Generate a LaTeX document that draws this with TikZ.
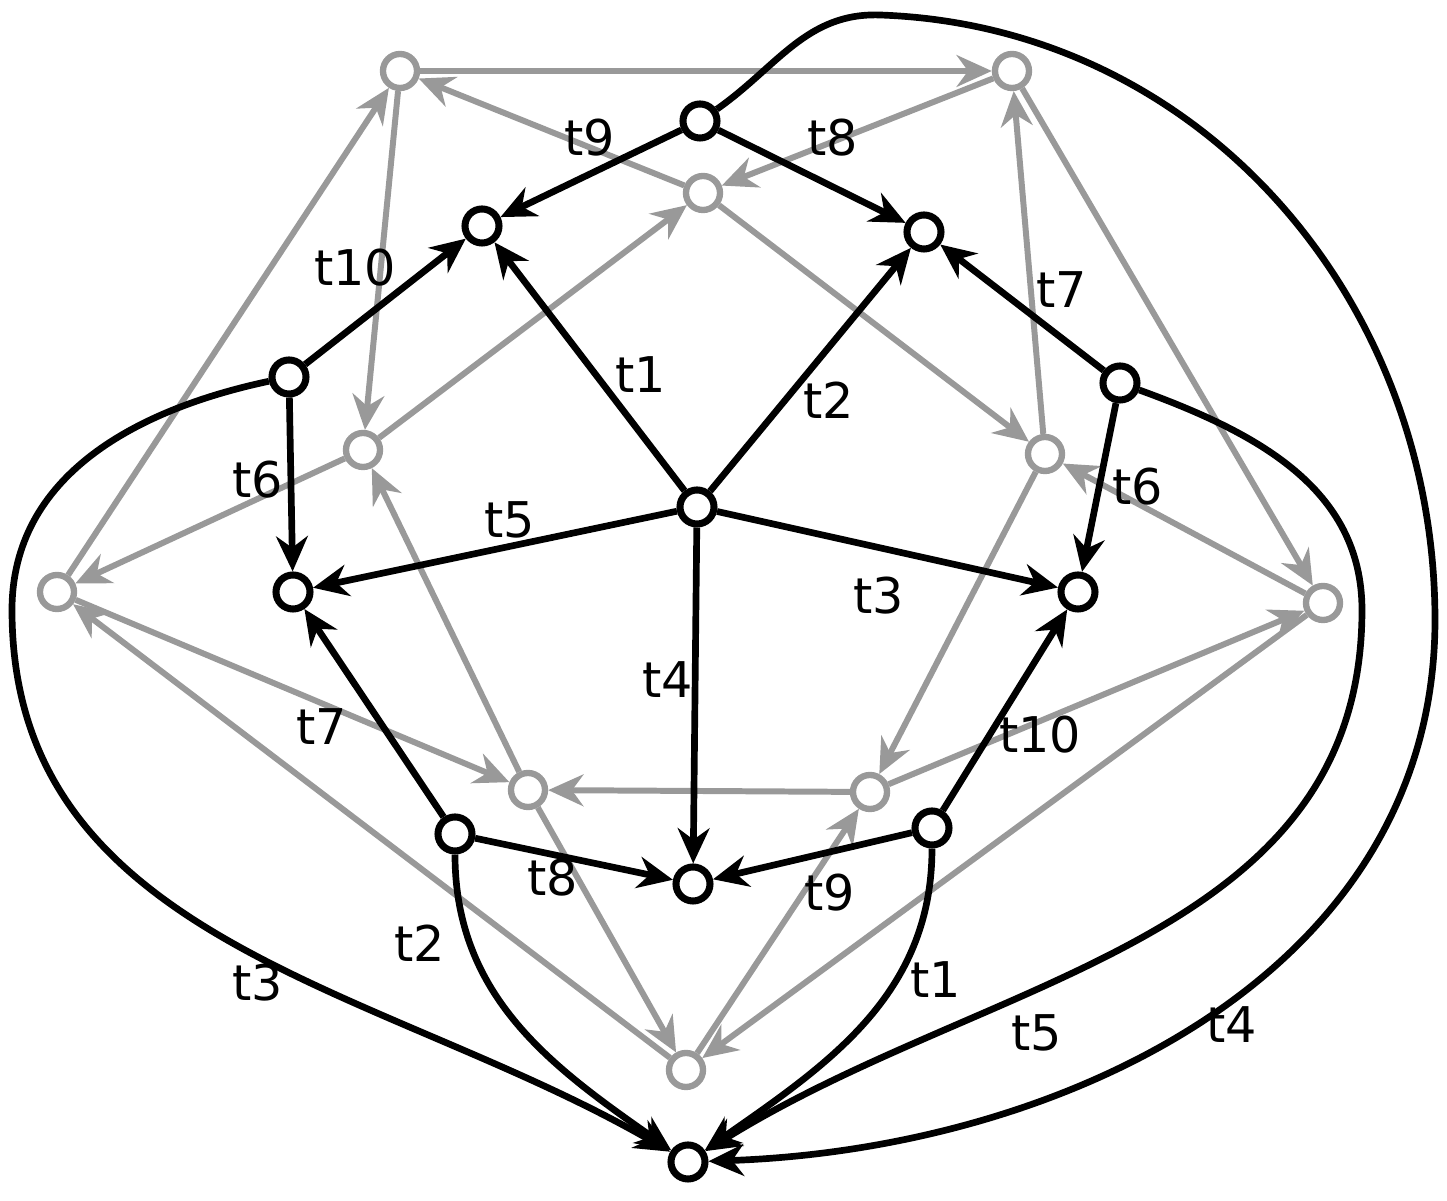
\documentclass[tikz,border=0pt]{standalone}
\usepackage{fontspec}
\setmainfont{DejaVu Sans}
\usetikzlibrary{arrows.meta}
\definecolor{gr}{HTML}{999999}
\begin{document}
\begin{tikzpicture}[x=0.01cm,y=0.01cm,
 bn/.style={circle,draw=black,line width=2pt,fill=white,minimum size=0.34cm,inner sep=0pt},
 gn/.style={circle,draw=gr,line width=1.8pt,fill=white,minimum size=0.34cm,inner sep=0pt},
 be/.style={line width=1.9pt,draw=black,-{Stealth[length=10pt,width=9pt]}},
 ge/.style={line width=1.7pt,draw=gr,-{Stealth[length=10pt,width=9pt]}},
 lb/.style={font=\fontsize{14}{14}\selectfont,inner sep=0pt}]
\useasboundingbox (0,0) rectangle (1447,-1201);
% gray nodes
\node[gn] (o1) at (400,-71) {};
\node[gn] (o2) at (1012,-71) {};
\node[gn] (o3) at (1323,-603) {};
\node[gn] (o4) at (686,-1070) {};
\node[gn] (o5) at (57,-592) {};
\node[gn] (i1) at (703,-193) {};
\node[gn] (i2) at (1045,-454) {};
\node[gn] (i3) at (870,-792) {};
\node[gn] (i4) at (528,-790) {};
\node[gn] (i5) at (363,-450) {};
% gray edges
\draw[ge] (o1)--(o2);
\draw[ge] (o2)--(i1);
\draw[ge] (i1)--(o1);
\draw[ge] (o1)--(i5);
\draw[ge] (i5)--(i1);
\draw[ge] (i5)--(o5);
\draw[ge] (o5)--(o1);
\draw[ge] (i1)--(i2);
\draw[ge] (i2)--(o2);
\draw[ge] (o2)--(o3);
\draw[ge] (o3)--(i2);
\draw[ge] (i2)--(i3);
\draw[ge] (i3)--(o3);
\draw[ge] (o3)--(o4);
\draw[ge] (o4)--(i3);
\draw[ge] (i3)--(i4);
\draw[ge] (i4)--(i5);
\draw[ge] (o5)--(i4);
\draw[ge] (i4)--(o4);
\draw[ge] (o4)--(o5);
% black nodes
\node[bn] (c) at (697,-507) {};
\node[bn] (a1) at (482,-226) {};
\node[bn] (a2) at (924,-232) {};
\node[bn] (a3) at (1078,-592) {};
\node[bn] (a4) at (693,-884) {};
\node[bn] (a5) at (293,-592) {};
\node[bn] (bt) at (700,-121) {};
\node[bn] (br) at (1120,-383) {};
\node[bn] (bbr) at (932,-828) {};
\node[bn] (bbl) at (455,-834) {};
\node[bn] (bl) at (289,-377) {};
\node[bn] (bot) at (688,-1162) {};
\coordinate (r4t) at (880,-15);
\coordinate (r4) at (1435,-620);
\coordinate (r5) at (1362,-610);
\coordinate (l3) at (12,-610);
% black edges
\draw[be] (c)--(a1);
\draw[be] (c)--(a2);
\draw[be] (c)--(a3);
\draw[be] (c)--(a4);
\draw[be] (c)--(a5);
\draw[be] (bt)--(a1);
\draw[be] (bt)--(a2);
\draw[be] (br)--(a2);
\draw[be] (br)--(a3);
\draw[be] (bbr)--(a3);
\draw[be] (bbr)--(a4);
\draw[be] (bbl)--(a4);
\draw[be] (bbl)--(a5);
\draw[be] (bl)--(a1);
\draw[be] (bl)--(a5);
\draw[be] (bt) to[out=35,in=178] (r4t) to[out=-2,in=90] (r4) to[out=-90,in=2] (bot);
\draw[be] (br) to[out=-20,in=90] (r5) to[out=-90,in=32] (bot);
\draw[be] (bl) to[out=192,in=90] (l3) to[out=-90,in=150] (bot);
\draw[be] (bbl) to[out=-90,in=145] (bot);
\draw[be] (bbr) to[out=-90,in=35] (bot);
% labels
\node[lb] (t9a) at (590,-138) {t9};
\node[lb] (t8a) at (833,-138) {t8};
\node[lb] (t10a) at (355,-268) {t10};
\node[lb] (t7a) at (1062,-290) {t7};
\node[lb] (t1a) at (641,-375) {t1};
\node[lb] (t2a) at (829,-400) {t2};
\node[lb] (t6a) at (258,-480) {t6};
\node[lb] (t6b) at (1138,-487) {t6};
\node[lb] (t5a) at (510,-520) {t5};
\node[lb] (t3a) at (879,-596) {t3};
\node[lb] (t4a) at (668,-680) {t4};
\node[lb] (t7b) at (322,-727) {t7};
\node[lb] (t10b) at (1040,-735) {t10};
\node[lb] (t8b) at (553,-878) {t8};
\node[lb] (t9b) at (830,-893) {t9};
\node[lb] (t2b) at (420,-943) {t2};
\node[lb] (t1b) at (936,-980) {t1};
\node[lb] (t3b) at (258,-983) {t3};
\node[lb] (t5b) at (1037,-1033) {t5};
\node[lb] (t4b) at (1232,-1025) {t4};
\end{tikzpicture}
\end{document}
